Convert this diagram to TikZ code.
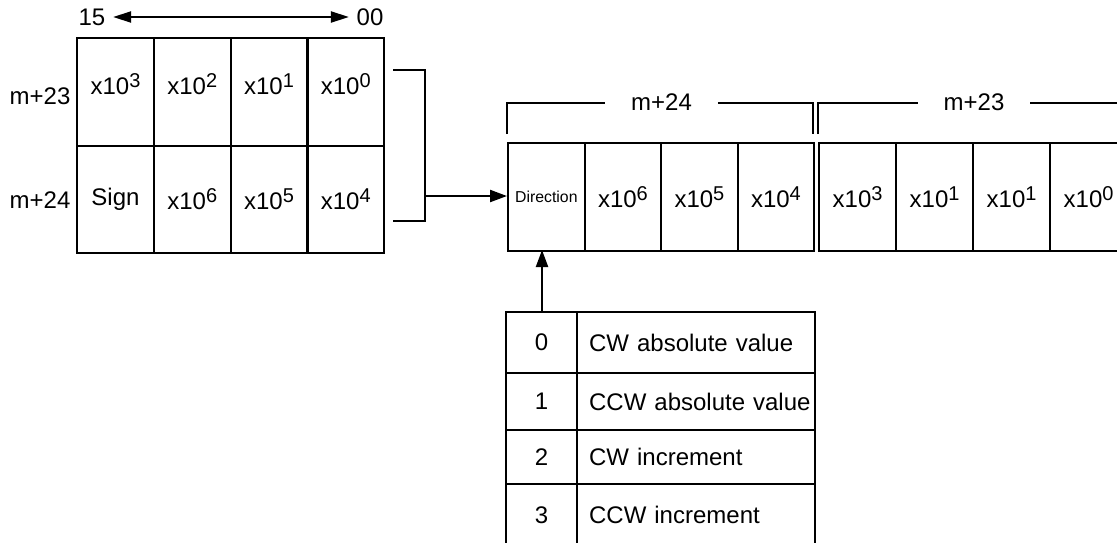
\documentclass[tikz,border=0pt]{standalone}
\usepackage{fontspec}
\setmainfont{Liberation Sans}
\usetikzlibrary{arrows.meta}
\newcommand\supx[1]{\raisebox{3.5pt}{\fontsize{10}{10}\selectfont #1}}
\newcommand\upx[1]{\raisebox{4pt}[\height][\depth]{#1}}
\begin{document}
\begin{tikzpicture}[x=0.5pt,y=-0.5pt,line width=1.1pt,
  font=\fontsize{12}{14}\selectfont,
  cell/.style={draw,anchor=north west,inner sep=0pt},
  lcell/.style={cell,minimum width=38.4pt},
  rcell/.style={cell,minimum width=38.3pt,minimum height=54pt},
  numcell/.style={cell,minimum width=35.5pt},
  txtcell/.style={cell,inner xsep=2pt,text width=115pt,align=left},
  brlabel/.style={inner xsep=12.5pt,inner ysep=2pt},
  arr/.style={-{Triangle[length=8.5pt,width=6pt]}},
  darr/.style={{Triangle[length=9pt,width=5.5pt]}-{Triangle[length=9pt,width=5.5pt]}}]
\useasboundingbox (0,0) rectangle (1117,542);
\clip (0,0) rectangle (1117,542);

% bit order arrow
\node (n15) at (92,17) {15};
\node (n00) at (370,17) {00};
\draw[darr] (n15.east) -- (n00.west);

% left table
\node (lm23) at (40,96) {m+23};
\node (lm24) at (40,200) {m+24};
\node[lcell,minimum height=54pt] (a1) at (76,37) {\upx{x10\supx{3}}};
\node[lcell,minimum height=54pt] (a2) at (152.75,37) {\upx{x10\supx{2}}};
\node[lcell,minimum height=54pt] (a3) at (229.5,37) {\upx{x10\supx{1}}};
\node[lcell,minimum height=54pt] (a4) at (306.25,37) {\upx{x10\supx{0}}};
\node[lcell,minimum height=53.5pt] (s1) at (76,145) {Sign};
\node[lcell,minimum height=53.5pt] (s2) at (152.75,145) {x10\supx{6}};
\node[lcell,minimum height=53.5pt] (s3) at (229.5,145) {x10\supx{5}};
\node[lcell,minimum height=53.5pt] (s4) at (306.25,145) {x10\supx{4}};

% bracket and arrow
\coordinate (bk) at (425,196);
\draw (393,70) -- (425,70) -- (425,221) -- (393,221);

% right table
\node[rcell,font=\fontsize{7.9}{9}\selectfont] (b1) at (507,142) {Direction};
\node[rcell] (b2) at (583.5,142) {x10\supx{6}};
\node[rcell] (b3) at (660,142) {x10\supx{5}};
\node[rcell] (b4) at (736.5,142) {x10\supx{4}};
\node[rcell,minimum width=38.5pt] (c1) at (818,142) {x10\supx{3}};
\node[rcell,minimum width=38.5pt] (c2) at (895,142) {x10\supx{1}};
\node[rcell,minimum width=38.5pt] (c3) at (972,142) {x10\supx{1}};
\node[rcell,minimum width=38.5pt] (c4) at (1049,142) {x10\supx{0}};
\draw[arr] (bk) -- (bk -| b1.west);

% brackets above right table
\node[brlabel] (t24) at (661.5,102) {m+24};
\node[brlabel] (t23) at (974,102) {m+23};
\draw (507,134) -- (507,103) -- (t24.west |- 0,103);
\draw (t24.east |- 0,103) -- (813,103) -- (813,134);
\draw (818,134) -- (818,103) -- (t23.west |- 0,103);
\draw (t23.east |- 0,103) -- (1126,103) -- (1126,134);

% direction table
\node[numcell,minimum height=30.5pt] (e1) at (505,311) {0};
\node[txtcell,minimum height=30.5pt] (f1) at (576,311) {\hspace*{4pt}CW absolute value};
\node[numcell,minimum height=28.5pt] (e2) at (505,372) {1};
\node[txtcell,minimum height=28.5pt] (f2) at (576,372) {\hspace*{4pt}CCW absolute value};
\node[numcell,minimum height=27pt] (e3) at (505,429) {2};
\node[txtcell,minimum height=27pt] (f3) at (576,429) {\hspace*{4pt}CW increment};
\node[numcell,minimum height=31pt] (e4) at (505,483) {3};
\node[txtcell,minimum height=31pt] (f4) at (576,483) {\hspace*{4pt}CCW increment};

\draw[arr] (e1.north -| 542,0) -- (542,250);
\end{tikzpicture}
\end{document}
